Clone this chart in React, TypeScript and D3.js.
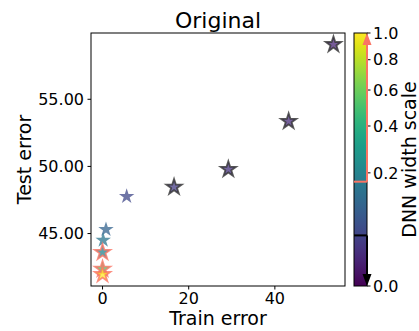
import React from "react";
import * as d3 from "d3";

// values
const trainError = [53.6, 43.2, 29.2, 16.6, 5.6, 0.8, 0.15, 0.0, 0.0, 0.0];
const testError = [59.08, 53.36, 49.78, 48.46, 47.76, 45.3, 44.5, 43.6, 42.35, 41.95];
const widthScale = [0.01, 0.015, 0.02, 0.03, 0.045, 0.1, 0.15, 0.2, 0.5, 1.0];
const xTicks = [0, 20, 40];
const yTicks = [45, 50, 55];
const cbarTicks = [0, 0.2, 0.4, 0.6, 0.8, 1.0];
// colorbar brackets: small widths (black) and large widths (salmon)
const smallCut = 0.04;
const largeCut = 0.17;

const W = 419;
const H = 331;
const plot = { left: 91, right: 345, top: 33, bottom: 286 };
const cbar = { left: 354, right: 367 };
const font = "DejaVu Sans, sans-serif";
const salmon = "#fa7464";

const pad = (ext: [number, number]): [number, number] => {
  const r = ext[1] - ext[0];
  return [ext[0] - 0.05 * r, ext[1] + 0.05 * r];
};

export default function App() {
  const x = d3
    .scaleLinear()
    .domain(pad(d3.extent(trainError) as [number, number]))
    .range([plot.left, plot.right]);
  const y = d3
    .scaleLinear()
    .domain(pad(d3.extent(testError) as [number, number]))
    .range([plot.bottom, plot.top]);
  // PowerNorm(gamma=0.5) style colour scale
  const norm = d3.scaleSqrt().domain([0, 1]).range([0, 1]);
  const cy = d3.scaleSqrt().domain([0, 1]).range([plot.bottom, plot.top]);
  const color = (w: number) => d3.interpolateViridis(norm(w));
  const star = d3.symbol(d3.symbolStar, 74)() as string;

  const stops = d3.range(0, 21).map((i) => i / 20);

  const ySmall = cy(smallCut);
  const yLarge = cy(largeCut);

  return (
    <svg
      width={W}
      height={H}
      style={{ position: "fixed", left: 0, top: 0, background: "#fff" }}
      fontFamily={font}
    >
      <defs>
        <linearGradient id="vir" x1="0" y1="1" x2="0" y2="0">
          {stops.map((t) => (
            <stop key={t} offset={t} stopColor={d3.interpolateViridis(t)} />
          ))}
        </linearGradient>
      </defs>

      {/* title */}
      <text x={(plot.left + plot.right) / 2} y={28} fontSize={22} textAnchor="middle" fill="#000">
        Original
      </text>

      {/* points */}
      {trainError.map((te, i) => {
        const w = widthScale[i];
        const edge = w <= smallCut ? "#333" : w >= largeCut ? salmon : "none";
        return (
          <path
            key={i}
            d={star}
            transform={`translate(${x(te)},${y(testError[i])})`}
            fill={color(w)}
            fillOpacity={0.75}
            stroke={edge}
            strokeOpacity={0.8}
            strokeWidth={edge === "none" ? 0 : 1.8}
            strokeLinejoin="miter"
          />
        );
      })}

      {/* frame */}
      <rect
        x={plot.left}
        y={plot.top}
        width={plot.right - plot.left}
        height={plot.bottom - plot.top}
        fill="none"
        stroke="#000"
        strokeWidth={1}
      />

      {/* x axis */}
      {xTicks.map((t) => (
        <g key={t} transform={`translate(${x(t)},${plot.bottom})`}>
          <line y2={3.5} stroke="#000" />
          <text y={18} fontSize={16} textAnchor="middle" fill="#000">
            {t}
          </text>
        </g>
      ))}
      <text x={(plot.left + plot.right) / 2} y={325} fontSize={19} textAnchor="middle" fill="#000">
        Train error
      </text>

      {/* y axis */}
      {yTicks.map((t) => (
        <g key={t} transform={`translate(${plot.left},${y(t)})`}>
          <line x2={-3.5} stroke="#000" />
          <text x={-7} dy="0.36em" fontSize={16} textAnchor="end" fill="#000">
            {d3.format(".2f")(t)}
          </text>
        </g>
      ))}
      <text
        transform={`translate(31,${(plot.top + plot.bottom) / 2}) rotate(-90)`}
        fontSize={19}
        textAnchor="middle"
        fill="#000"
      >
        Test error
      </text>

      {/* colorbar */}
      <rect
        x={cbar.left}
        y={plot.top}
        width={cbar.right - cbar.left}
        height={plot.bottom - plot.top}
        fill="url(#vir)"
        stroke="#000"
        strokeWidth={1}
      />
      {cbarTicks.map((t) => (
        <g key={t} transform={`translate(${cbar.right},${cy(t)})`}>
          <line x2={3.5} stroke="#000" />
          <text x={6} dy="0.36em" fontSize={16} fill="#000">
            {d3.format(".1f")(t)}
          </text>
        </g>
      ))}
      <text
        transform={`translate(416,${(plot.top + plot.bottom) / 2}) rotate(-90)`}
        fontSize={19}
        textAnchor="middle"
        fill="#000"
      >
        DNN width scale
      </text>

      {/* large-width bracket */}
      <line x1={cbar.left} x2={cbar.right} y1={yLarge} y2={yLarge} stroke={salmon} strokeWidth={2} />
      <line x1={cbar.right} x2={cbar.right} y1={yLarge} y2={plot.top + 10} stroke={salmon} strokeWidth={2} />
      <path
        d={`M${cbar.right},${plot.top} L${cbar.right - 4.5},${plot.top + 12} L${cbar.right + 4.5},${plot.top + 12} Z`}
        fill={salmon}
      />

      {/* small-width bracket */}
      <line x1={cbar.left} x2={cbar.right} y1={ySmall} y2={ySmall} stroke="#000" strokeWidth={2} />
      <line x1={cbar.right} x2={cbar.right} y1={ySmall} y2={cy(0) - 10} stroke="#000" strokeWidth={2} />
      <path
        d={`M${cbar.right},${cy(0)} L${cbar.right - 4.5},${cy(0) - 12} L${cbar.right + 4.5},${cy(0) - 12} Z`}
        fill="#000"
      />
    </svg>
  );
}
